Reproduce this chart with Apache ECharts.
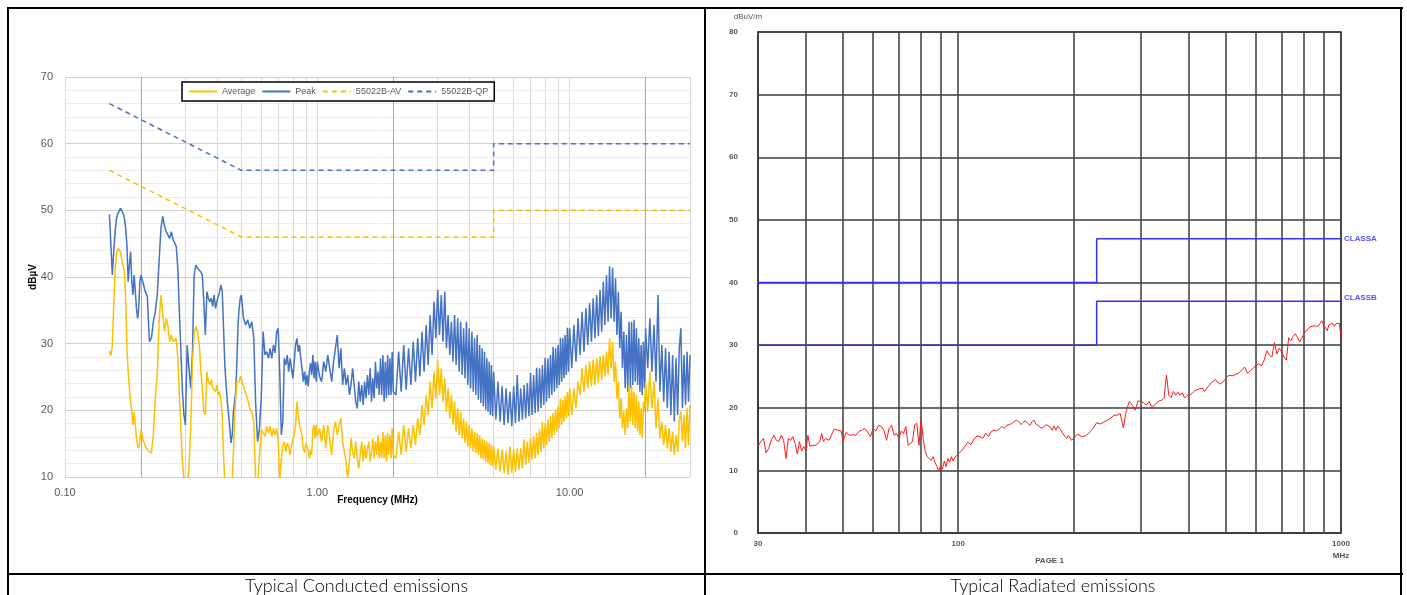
<!DOCTYPE html>
<html>
<head>
<meta charset="utf-8">
<script src="https://cdn.jsdelivr.net/npm/echarts@6.0.0/dist/echarts.min.js"></script>
<style>
  html, body { margin: 0; padding: 0; background: #fff; }
  #page { position: relative; width: 1407px; height: 595px; overflow: hidden; background: #fff; }
  #chart { position: absolute; left: 0; top: 0; width: 1407px; height: 595px; }
  .rule { position: absolute; background: #000; pointer-events: none; }
  .cap { position: absolute; top: 575px; height: 20px; line-height: 20px; text-align: center;
         font-family: "Lato", "Open Sans", "Noto Sans", sans-serif; font-weight: 300; font-size: 18px; color: #000; }
</style>
</head>
<body>
<div id="page">
  <div id="chart"></div>
  <div class="rule" style="left:7px;top:7px;width:1396px;height:2px"></div>
  <div class="rule" style="left:7px;top:7px;width:2px;height:600px"></div>
  <div class="rule" style="left:704px;top:7px;width:2px;height:600px"></div>
  <div class="rule" style="left:1400px;top:7px;width:2px;height:600px"></div>
  <div class="rule" style="left:7px;top:573px;width:1396px;height:2px"></div>
  <div class="cap" style="left:9px;width:695px">Typical Conducted emissions</div>
  <div class="cap" style="left:706px;width:694px">Typical Radiated emissions</div>
</div>
<script>
// ---------- Conducted emissions (MHz, dBµV) ----------
const CE_FREQ = [
0.150,0.152,0.154,0.156,0.158,0.160,0.162,0.164,0.166,0.168,0.170,0.172,0.174,0.176,0.178,0.180,0.182,0.184,0.186,0.188,0.190,0.192,0.194,0.196,0.198,0.200,
0.204,0.208,0.212,0.216,0.220,0.224,0.228,0.232,0.236,0.240,0.244,0.248,0.252,0.256,0.260,0.264,0.268,0.272,0.276,0.280,0.284,0.288,0.292,0.296,0.300,
0.305,0.310,0.315,0.320,0.325,0.330,0.335,0.340,0.345,0.350,0.355,0.360,0.365,0.370,0.375,0.380,0.385,0.390,0.395,0.400,
0.405,0.410,0.415,0.420,0.425,0.430,0.435,0.440,0.445,0.450,0.455,0.460,0.465,0.470,0.475,0.480,0.485,0.490,0.495,0.500,
0.51,0.52,0.53,0.54,0.55,0.56,0.57,0.58,0.59,0.60,0.61,0.62,0.63,0.64,0.65,0.66,0.67,0.68,0.69,0.70,
0.71,0.72,0.73,0.74,0.75,0.76,0.77,0.78,0.79,0.80,0.81,0.82,0.83,0.84,0.85,0.86,0.87,0.88,0.89,0.90,
0.91,0.92,0.93,0.94,0.95,0.96,0.97,0.98,0.99,1.00,
1.02,1.04,1.06,1.08,1.10,1.12,1.14,1.16,1.18,1.20,1.22,1.24,1.26,1.28,1.30,1.32,1.34,1.36,1.38,1.40,
1.42,1.44,1.46,1.48,1.50,1.52,1.54,1.56,1.58,1.60,1.62,1.64,1.66,1.68,1.70,1.72,1.74,1.76,1.78,1.80,
1.82,1.84,1.86,1.88,1.90,1.92,1.94,1.96,1.98,2.00,
2.05,2.10,2.15,2.20,2.25,2.30,2.35,2.40,2.45,2.50,2.55,2.60,2.65,2.70,2.75,2.80,2.85,2.90,2.95,3.00,
3.05,3.10,3.15,3.20,3.25,3.30,3.35,3.40,3.45,3.50,3.55,3.60,3.65,3.70,3.75,3.80,3.85,3.90,3.95,4.00,
4.05,4.10,4.15,4.20,4.25,4.30,4.35,4.40,4.45,4.50,4.55,4.60,4.65,4.70,4.75,4.80,4.85,4.90,4.95,5.00,
5.1,5.2,5.3,5.4,5.5,5.6,5.7,5.8,5.9,6.0,6.1,6.2,6.3,6.4,6.5,6.6,6.7,6.8,6.9,7.0,
7.1,7.2,7.3,7.4,7.5,7.6,7.7,7.8,7.9,8.0,8.1,8.2,8.3,8.4,8.5,8.6,8.7,8.8,8.9,9.0,
9.1,9.2,9.3,9.4,9.5,9.6,9.7,9.8,9.9,10.0,
10.2,10.4,10.6,10.8,11.0,11.2,11.4,11.6,11.8,12.0,12.2,12.4,12.6,12.8,13.0,13.2,13.4,13.6,13.8,14.0,
14.2,14.4,14.6,14.8,15.0,15.2,15.4,15.6,15.8,16.0,16.2,16.4,16.6,16.8,17.0,17.2,17.4,17.6,17.8,18.0,
18.2,18.4,18.6,18.8,19.0,19.2,19.4,19.6,19.8,20.0,
20.4,20.8,21.2,21.6,22.0,22.4,22.8,23.2,23.6,24.0,24.4,24.8,25.2,25.6,26.0,26.4,26.8,27.2,27.6,28.0,
28.4,28.8,29.2,29.6,30.0
];
const CE_PEAK = [
49.4,49.1,40.3,43.8,46.8,48.8,49.5,49.3,50.3,50.5,49.5,48.8,47.3,44.8,39.3,41.8,43.8,39.3,37.3,40.3,37.8,35.3,33.8,35.3,39.3,40.3,
39.1,37.8,37.1,30.3,30.8,33.3,34.8,37.3,42.3,47.3,49.1,47.6,46.8,47.1,45.8,46.8,45.6,45.3,44.6,41.3,34.8,28.8,22.8,19.3,17.8,
29.8,26.3,23.3,28.8,40.3,41.8,41.3,41.1,40.8,40.3,36.3,31.3,37.8,36.8,36.3,36.8,35.6,37.3,35.3,36.3,
37.1,37.8,38.8,37.8,32.3,26.8,23.8,21.3,19.3,17.3,15.1,16.3,19.8,21.3,22.8,27.3,32.8,35.3,36.8,37.3,
33.8,32.8,33.6,32.3,33.3,30.8,20.8,15.3,17.3,22.3,31.8,28.3,28.8,27.8,29.3,27.8,29.8,28.6,31.8,32.3,
25.3,16.3,18.3,27.8,26.8,28.3,25.8,27.8,26.3,24.8,27.3,29.8,30.8,28.8,29.8,27.8,26.3,24.3,25.8,23.8,
25.3,23.6,25.8,27.1,25.3,28.3,24.8,27.3,24.3,27.3,
25.1,24.3,27.3,25.8,28.3,26.3,24.3,27.3,29.3,31.3,26.3,29.3,23.8,26.3,23.8,25.3,22.3,23.8,26.3,23.8,
21.3,20.3,24.3,21.3,23.8,20.8,24.3,21.8,25.3,22.3,26.3,21.3,24.8,21.8,27.3,23.3,25.8,22.3,27.8,22.3,
28.3,21.3,27.3,21.8,28.3,22.3,27.8,22.3,28.8,22.8,
22.3,28.8,22.8,29.8,23.1,29.3,23.8,30.3,24.3,30.8,25.1,31.8,25.8,32.8,26.8,34.3,28.3,36.3,30.8,38.1,
31.3,37.3,30.3,37.8,29.3,34.3,28.3,33.3,27.3,34.3,26.8,33.8,25.8,33.3,25.3,32.3,24.8,33.3,23.8,32.3,
23.3,31.8,22.8,30.8,22.3,31.3,21.6,29.8,21.1,29.3,20.6,28.8,20.1,27.8,19.8,27.3,19.3,26.8,19.1,25.8,
18.6,24.3,18.3,23.6,17.8,23.3,18.1,22.8,17.6,23.6,18.1,25.3,18.3,23.3,18.6,23.8,18.8,24.1,19.1,25.6,
19.3,25.3,19.6,26.4,19.8,26.3,20.3,26.8,20.8,27.9,21.3,27.8,21.8,28.3,22.3,29.5,22.8,29.3,23.3,29.8,
23.8,30.9,24.3,30.8,24.8,31.3,25.3,32.4,25.8,32.3,
26.3,32.8,27.3,33.8,28.3,34.8,28.8,35.3,29.8,36.1,30.3,36.8,30.8,37.3,31.1,38.1,31.8,39.3,32.8,40.3,
33.3,41.6,33.8,41.4,33.3,39.8,31.3,37.8,29.3,34.8,26.3,31.8,23.3,31.3,22.8,33.3,23.3,33.3,23.8,33.6,
24.3,32.3,23.8,30.8,22.8,29.8,22.3,30.3,23.3,32.3,
26.3,33.8,25.8,32.8,24.3,37.3,22.8,29.8,21.3,29.3,20.3,28.8,19.3,28.3,18.3,27.8,19.3,29.3,32.3,20.3,
28.3,20.8,28.8,21.3,28.3
];
const CE_AVG = [
28.9,28.2,29.8,35.8,41.3,43.5,44.3,44.5,43.8,42.5,42.3,40.8,36.8,29.3,25.8,23.3,21.3,19.8,17.8,19.8,17.8,15.8,14.8,14.3,15.3,17.1,
15.6,14.6,14.1,13.8,13.6,16.3,21.8,25.3,33.3,37.3,34.3,31.8,33.8,32.6,30.3,31.3,30.3,30.3,30.8,27.8,22.3,17.3,12.3,9.8,7.3,
8.8,11.3,17.3,27.3,31.3,32.6,31.8,30.3,26.3,23.3,19.8,19.3,25.8,24.3,23.8,24.6,23.3,23.1,22.8,23.8,
22.3,22.8,21.3,19.3,13.3,9.3,7.3,6.3,6.3,7.3,8.3,9.3,13.8,18.3,21.8,24.3,24.6,24.3,25.1,24.8,
23.6,22.6,21.6,20.3,19.8,18.3,9.3,8.3,13.3,17.1,17.3,16.1,17.6,16.6,17.6,16.1,17.3,16.3,17.3,15.3,
9.3,12.8,14.6,15.3,13.8,15.1,14.6,13.3,14.6,15.6,16.3,17.8,21.3,19.3,17.8,17.1,16.1,14.3,13.6,15.1,
14.6,13.8,12.8,14.1,13.3,17.1,17.8,15.8,17.8,16.1,
17.3,15.3,17.8,14.3,17.8,15.8,13.3,16.8,18.3,16.3,17.8,18.8,15.3,13.8,12.3,9.8,12.3,15.8,13.8,12.8,
15.3,12.8,11.3,13.3,15.3,12.3,14.8,12.8,14.3,15.3,12.3,13.8,15.8,12.8,15.3,13.3,16.3,12.8,15.3,12.8,
16.8,12.8,16.3,12.3,16.6,13.3,16.3,12.8,17.3,13.3,
12.8,16.8,13.3,17.8,13.8,17.3,14.3,17.8,14.8,18.8,16.3,20.8,17.8,22.3,19.3,24.3,20.3,25.8,21.8,27.6,
22.3,26.3,21.3,24.8,19.8,23.3,18.8,22.3,17.8,21.3,16.8,20.3,16.3,19.8,15.8,18.8,15.1,18.3,14.6,17.8,
14.3,17.3,13.8,16.8,13.6,16.6,13.3,16.3,12.8,15.8,12.6,15.6,12.3,15.3,12.1,15.1,11.8,14.8,11.6,14.6,
11.1,14.3,10.8,14.1,10.6,13.8,10.3,14.6,10.6,14.1,10.8,14.3,11.1,14.3,11.3,15.6,11.8,15.3,12.1,15.8,
12.6,16.1,12.8,16.6,13.3,17.1,13.8,18.3,14.3,18.1,14.8,18.6,15.3,19.1,15.8,19.6,16.3,20.1,16.8,20.6,
17.3,21.8,17.8,21.6,18.3,22.1,18.8,22.8,19.1,23.3,
19.3,23.3,20.3,24.3,22.3,26.3,22.8,26.8,23.3,27.3,23.6,27.6,23.8,27.8,24.1,28.1,24.6,28.3,25.1,28.8,
25.3,30.8,26.3,30.3,24.3,27.3,21.8,24.3,18.8,21.8,17.3,19.8,16.3,20.3,17.3,23.8,18.3,23.8,17.8,22.8,
17.3,22.3,16.8,21.3,16.3,20.3,15.8,21.3,19.8,24.3,
19.8,25.8,20.3,24.3,17.3,21.8,15.8,18.3,14.8,17.8,14.3,17.3,13.8,16.8,13.3,16.3,13.8,18.3,19.8,15.3,
19.3,14.3,20.3,14.8,20.8
];
// EN 55022 class B limits (MHz, dBµV)
const LIMIT_FREQ = [0.15, 0.5, 5, 5, 30];
const LIMIT_QP = [66, 56, 56, 60, 60];
const LIMIT_AV = [56, 46, 46, 50, 50];
// log-axis gridlines of the conducted chart (MHz)
const CE_GRID_LIGHT = [0.3,0.4,0.5,0.6,0.7,0.8,0.9,3,4,5,6,7,8,9];
const CE_GRID_DARK = [0.2,2,20];

// ---------- Radiated emissions (MHz, dBµV/m) ----------
const RE_FREQ = [
30,30.5,31,31.5,32,32.5,33,33.5,34,34.5,35,35.5,36,36.5,37,37.5,38,38.5,39,39.5,
40,40.5,41,41.5,42,42.5,43,43.5,44,44.5,45,45.5,46,46.5,47,47.5,48,48.5,49,49.5,50,
51,52,53,54,55,56,57,58,59,60,61,62,63,64,65,66,67,68,69,70,
71,72,73,74,75,76,77,78,79,80,81,82,83,84,85,86,87,88,89,90,
91,92,93,94,95,96,97,98,99,100,
102,104,106,108,110,112,114,116,118,120,122,124,126,128,130,132,134,136,138,140,
142,144,146,148,150,152,154,156,158,160,162,164,166,168,170,172,174,176,178,180,
182,184,186,188,190,192,194,196,198,200,
205,210,215,220,225,230,235,240,245,250,255,260,265,270,275,280,285,290,295,300,
305,310,315,320,325,330,335,340,345,350,355,360,365,370,375,380,385,390,395,400,
405,410,415,420,425,430,435,440,445,450,455,460,465,470,475,480,485,490,495,500,
510,520,530,540,550,560,570,580,590,600,610,620,630,640,650,660,670,680,690,700,
710,720,730,740,750,760,770,780,790,800,810,820,830,840,850,860,870,880,890,900,
910,920,930,940,950,960,970,980,990,1000
];
const RE_LEVEL = [
13.8,14.6,15.1,12.8,13.5,14.8,15.6,14.8,14.6,15.6,14.8,11.9,15.1,14.8,15.4,14.3,12.6,14.6,13.1,13.8,
13.2,15.6,13.8,14.0,13.9,14.0,14.3,14.6,15.9,14.6,15.1,15.4,14.8,15.4,16.1,16.6,16.8,16.4,16.2,16.3,14.6,
16.1,15.6,15.7,15.6,16.2,16.4,16.7,16.1,15.4,16.7,16.3,17.2,17.0,16.4,14.8,16.7,17.2,15.6,15.9,15.1,
16.3,15.9,17.0,14.0,14.3,14.6,17.3,17.5,14.0,18.3,15.1,13.0,12.2,12.2,11.6,12.2,11.3,10.6,9.9,10.8,
10.2,11.5,10.6,11.9,11.3,12.2,11.5,12.0,12.4,12.7,
13.1,13.8,14.5,14.1,15.0,15.5,15.4,15.1,15.9,15.4,16.2,16.4,16.3,16.6,17.0,16.7,17.2,17.3,17.5,17.8,
18.0,17.8,17.3,17.7,17.9,17.5,17.2,17.8,18.0,17.3,17.2,16.8,16.8,16.9,17.3,17.5,16.9,16.4,17.1,16.4,
17.1,16.7,16.3,15.8,15.6,15.1,15.6,15.4,14.8,14.9,
15.8,15.4,15.5,16.0,16.7,17.6,17.4,17.7,18.0,18.3,18.8,18.8,19.1,16.8,19.6,21.0,20.4,19.6,21.1,21.0,
20.8,20.4,21.0,20.2,20.3,20.8,21.1,21.2,21.6,25.2,22.0,21.6,22.6,22.0,22.5,22.0,22.4,21.6,21.8,22.2,
22.1,22.4,22.7,22.6,23.0,22.8,23.1,22.6,23.0,23.4,23.5,24.1,24.4,24.5,24.1,24.4,23.8,23.7,24.3,24.7,
25.2,25.1,25.3,25.5,26.0,26.5,25.5,25.9,26.3,26.8,27.0,26.7,27.6,29.1,28.4,28.1,30.4,28.6,29.5,28.9,
28.1,27.6,31.2,30.7,31.4,31.8,31.2,30.5,31.1,31.8,32.3,32.5,32.9,32.7,33.1,33.0,33.0,33.4,33.9,33.3,
33.4,32.3,33.2,32.9,33.5,33.0,33.4,33.7,33.5,31.2
];
const CLASS_FREQ = [30, 230, 230, 1000];
const CLASS_A = [40, 40, 47, 47];
const CLASS_B = [30, 30, 37, 37];
const RE_GRID = [40,50,60,70,80,90,200,300,400,500,600,700,800,900];

const zip = (xs, ys) => xs.map((x, i) => [x, ys[i]]);
const FONT = 'Liberation Sans, Arial, sans-serif';
const REDARK = '#3c3c3c';

const chart = echarts.init(document.getElementById('chart'), null, { renderer: 'canvas' });
chart.setOption({
  animation: false,
  textStyle: { fontFamily: FONT },
  grid: [
    { left: 65, top: 77, width: 625, height: 400, show: false },
    { left: 758, top: 32, width: 583, height: 501, show: true, borderColor: REDARK, borderWidth: 1.5 }
  ],
  legend: {
    left: 182, top: 82,
    data: ['Average', 'Peak', '55022B-AV', '55022B-QP'],
    backgroundColor: '#fff', borderColor: '#000', borderWidth: 1.5,
    padding: [5, 6, 5, 6], itemGap: 6, itemWidth: 28, itemHeight: 10,
    itemStyle: { opacity: 0 },
    textStyle: { fontSize: 9, color: '#595959', fontFamily: FONT }
  },
  xAxis: [
    {
      type: 'log', logBase: 10, gridIndex: 0, min: 0.1, max: 30,
      axisLine: { show: false }, axisTick: { show: false },
      axisLabel: { formatter: v => Number(v).toFixed(2), color: '#595959', fontSize: 11, margin: 10, showMaxLabel: false },
      splitLine: { show: true, lineStyle: { color: '#d9d9d9', width: 1 } },
      name: 'Frequency (MHz)', nameLocation: 'middle', nameGap: 18, nameMoveOverlap: false,
      nameTextStyle: { fontWeight: 'bold', fontSize: 10, color: '#000' }
    },
    {
      type: 'log', logBase: 10, gridIndex: 1, min: 30, max: 1000,
      axisLine: { show: true, lineStyle: { color: REDARK, width: 1.5 } }, axisTick: { show: false },
      axisLabel: {
        formatter: v => { const r = Math.round(v); return r >= 1000 ? '1000\nMHz' : String(r); },
        color: '#555', fontSize: 8, fontWeight: 'bold', margin: 5, lineHeight: 12,
        showMinLabel: true, showMaxLabel: true
      },
      splitLine: { show: true, lineStyle: { color: REDARK, width: 1.5 } },
      name: 'PAGE 1', nameLocation: 'middle', nameGap: 24, nameMoveOverlap: false,
      nameTextStyle: { fontSize: 8, fontWeight: 'bold', color: '#555' }
    }
  ],
  yAxis: [
    {
      type: 'value', gridIndex: 0, min: 10, max: 70, interval: 10,
      axisLine: { show: false }, axisTick: { show: false },
      axisLabel: { color: '#595959', fontSize: 11, margin: 12 },
      splitLine: { lineStyle: { color: '#d0d0d0', width: 1 } },
      minorTick: { show: false, splitNumber: 5 },
      minorSplitLine: { show: true, lineStyle: { color: '#ececec', width: 1 } },
      name: 'dBµV', nameLocation: 'middle', nameRotate: 90, nameGap: 27, nameMoveOverlap: false,
      nameTextStyle: { fontWeight: 'bold', fontSize: 10, color: '#000' }
    },
    {
      type: 'value', gridIndex: 1, min: 0, max: 80, interval: 10,
      axisLine: { show: true, lineStyle: { color: REDARK, width: 1.5 } }, axisTick: { show: false },
      axisLabel: { color: '#555', fontSize: 8, fontWeight: 'bold', margin: 20 },
      splitLine: { lineStyle: { color: REDARK, width: 1.5 } },
      name: 'dBuV/m', nameLocation: 'end', nameGap: 11,
      nameTextStyle: { fontSize: 8, color: '#555', padding: [0, 20, 0, 0] }
    }
  ],
  series: [
    {
      name: 'ceGrid', type: 'line', xAxisIndex: 0, yAxisIndex: 0, data: [], silent: true,
      markLine: {
        silent: true, symbol: 'none', z: 1, animation: false, label: { show: false },
        data: CE_GRID_LIGHT.map(v => ({ xAxis: v, lineStyle: { color: '#d9d9d9', width: 1, type: 'solid' } }))
          .concat(CE_GRID_DARK.map(v => ({ xAxis: v, lineStyle: { color: '#a8a8a8', width: 1, type: 'solid' } })))
      }
    },
    {
      name: 'Peak', type: 'line', xAxisIndex: 0, yAxisIndex: 0, z: 3,
      data: zip(CE_FREQ, CE_PEAK), showSymbol: false, symbol: 'none', clip: true,
      color: '#4472C4', lineStyle: { color: '#4472C4', width: 1.5 }
    },
    {
      name: 'Average', type: 'line', xAxisIndex: 0, yAxisIndex: 0, z: 4,
      data: zip(CE_FREQ, CE_AVG), showSymbol: false, symbol: 'none', clip: true,
      color: '#FFC000', lineStyle: { color: '#FFC000', width: 1.5 }
    },
    {
      name: '55022B-AV', type: 'line', xAxisIndex: 0, yAxisIndex: 0, z: 5,
      data: zip(LIMIT_FREQ, LIMIT_AV), showSymbol: false, symbol: 'none',
      color: '#FFC000', lineStyle: { color: '#FFC000', width: 1.5, type: [5, 4] }
    },
    {
      name: '55022B-QP', type: 'line', xAxisIndex: 0, yAxisIndex: 0, z: 5,
      data: zip(LIMIT_FREQ, LIMIT_QP), showSymbol: false, symbol: 'none',
      color: '#4472C4', lineStyle: { color: '#4472C4', width: 1.5, type: [5, 4] }
    },
    {
      name: 'reGrid', type: 'line', xAxisIndex: 1, yAxisIndex: 1, data: [], silent: true,
      markLine: {
        silent: true, symbol: 'none', z: 1, animation: false, label: { show: false },
        data: RE_GRID.map(v => ({ xAxis: v, lineStyle: { color: REDARK, width: 1.5, type: 'solid' } }))
      }
    },
    {
      name: 'Level', type: 'line', xAxisIndex: 1, yAxisIndex: 1, z: 3,
      data: zip(RE_FREQ, RE_LEVEL), showSymbol: false, symbol: 'none',
      color: '#ff1a1a', lineStyle: { color: '#ff1a1a', width: 1 }
    },
    {
      name: 'CLASSA', type: 'line', xAxisIndex: 1, yAxisIndex: 1, z: 4,
      data: zip(CLASS_FREQ, CLASS_A), showSymbol: false, symbol: 'none',
      color: '#3333ff', lineStyle: { color: '#3333ff', width: 1.5 },
      endLabel: { show: true, formatter: 'CLASSA', color: '#5555ff', fontSize: 8, fontWeight: 'bold', distance: 3 }
    },
    {
      name: 'CLASSB', type: 'line', xAxisIndex: 1, yAxisIndex: 1, z: 4,
      data: zip(CLASS_FREQ, CLASS_B), showSymbol: false, symbol: 'none',
      color: '#3333ff', lineStyle: { color: '#3333ff', width: 1.5 },
      endLabel: { show: true, formatter: 'CLASSB', color: '#5555ff', fontSize: 8, fontWeight: 'bold', distance: 3, offset: [0, -3] }
    }
  ]
});
</script>
</body>
</html>
